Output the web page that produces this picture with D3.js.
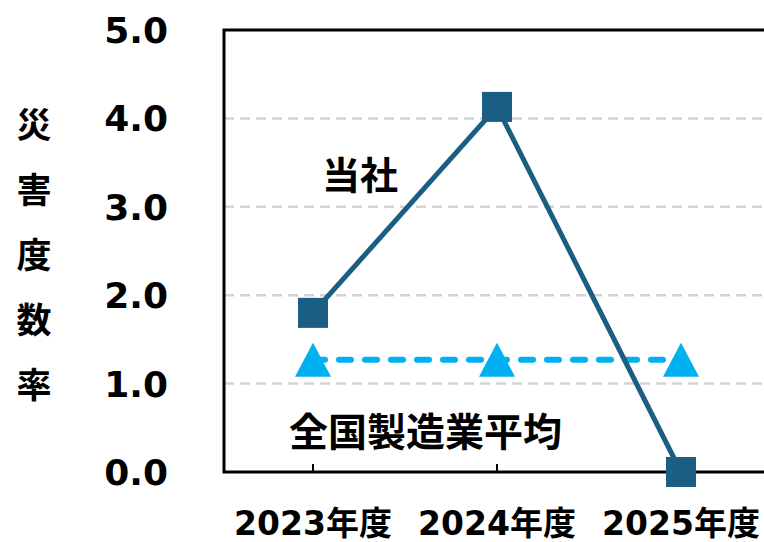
<!doctype html>
<html>
<head>
  <meta charset="utf-8">
  <title>災害度数率</title>
  <style>
  html, body { margin: 0; padding: 0; background: #fff; }
  svg { display: block; }
  text { font-family: "DejaVu Sans", "Noto Sans CJK JP", sans-serif; font-weight: bold; fill: #000; }
  </style>
</head>
<body>
  <div id="vis"></div>
  <script src="https://d3js.org/d3.v7.min.js"></script>
  <script>
  var years = ['2023年度', '2024年度', '2025年度'];
  var companyRates = [1.80, 4.13, 0.0];
  var nationalAvg = [1.27, 1.27, 1.27];
  var yTicks = [0, 1, 2, 3, 4, 5];
  var axisTitle = '災害度数率';

  var width = 764, height = 542;
  var plot = { left: 224, top: 30, bottom: 472 };

  var svg = d3.select('#vis').append('svg')
    .attr('width', width)
    .attr('height', height);

  var x = d3.scaleBand().domain(years).range([221, 773]);
  var y = d3.scaleLinear().domain([0, 5]).range([plot.bottom, plot.top]);
  var cx = function(d){ return x(d) + x.bandwidth() / 2; };

  // gridlines
  svg.selectAll('.grid').data(yTicks.filter(function(d){ return d > 0 && d < 5; }))
    .enter().append('line')
      .attr('x1', plot.left).attr('x2', width)
      .attr('y1', function(d){ return y(d); })
      .attr('y2', function(d){ return y(d); })
      .attr('stroke', '#d4d4d4')
      .attr('stroke-width', 2.5)
      .attr('stroke-dasharray', '10,6');

  // frame: left, top, bottom
  svg.append('path')
    .attr('d', 'M' + width + ',' + y(5) + 'H' + plot.left + 'V' + y(0) + 'H' + width)
    .attr('stroke', '#000').attr('stroke-width', 3).attr('fill', 'none');

  // x ticks (inward)
  svg.selectAll('.xtick').data(years).enter().append('line')
    .attr('x1', cx).attr('x2', cx)
    .attr('y1', y(0)).attr('y2', y(0) - 8)
    .attr('stroke', '#000').attr('stroke-width', 2);

  // y tick labels
  svg.selectAll('.ylab').data(yTicks).enter().append('text')
    .attr('x', 168)
    .attr('y', function(d){ return y(d); })
    .attr('dy', '0.36em')
    .attr('text-anchor', 'end')
    .style('font-size', '36px')
    .text(function(d){ return d3.format('.1f')(d); });

  // x labels
  svg.selectAll('.xlab').data(years).enter().append('text')
    .attr('x', cx)
    .attr('y', 535)
    .attr('text-anchor', 'middle')
    .style('font-size', '33px')
    .text(function(d){ return d; });

  // vertical axis title
  svg.selectAll('.ttl').data(axisTitle.split('')).enter().append('text')
    .attr('x', 34)
    .attr('y', function(d, i){ return 125 + i * 65; })
    .attr('dy', '0.36em')
    .attr('text-anchor', 'middle')
    .style('font-size', '35px')
    .text(function(d){ return d; });

  // national average (dashed, triangles)
  var line = d3.line()
    .x(function(d, i){ return cx(years[i]); })
    .y(function(d){ return y(d); });
  svg.append('path')
    .attr('d', line(nationalAvg))
    .attr('fill', 'none')
    .attr('stroke', '#00b0f0')
    .attr('stroke-width', 6)
    .attr('stroke-linecap', 'round')
    .attr('stroke-dasharray', '12,14');
  svg.selectAll('.tri').data(nationalAvg).enter().append('path')
    .attr('transform', function(d, i){ return 'translate(' + cx(years[i]) + ',' + y(d) + ')'; })
    .attr('d', 'M0,-17L18,17L-18,17Z')
    .attr('fill', '#00b0f0');

  // company line (solid, squares)
  svg.append('path')
    .attr('d', line(companyRates))
    .attr('fill', 'none')
    .attr('stroke', '#1b5e83')
    .attr('stroke-width', 5);
  svg.selectAll('.sq').data(companyRates).enter().append('rect')
    .attr('x', function(d, i){ return cx(years[i]) - 15; })
    .attr('y', function(d){ return y(d) - 15; })
    .attr('width', 30).attr('height', 30)
    .attr('fill', '#1b5e83');

  // series labels
  svg.append('text').attr('x', 322).attr('y', 175).attr('dy', '0.36em')
    .style('font-size', '38px').text('当社');
  svg.append('text').attr('x', 289).attr('y', 432).attr('dy', '0.36em')
    .style('font-size', '39px').text('全国製造業平均');
  </script>
</body>
</html>
